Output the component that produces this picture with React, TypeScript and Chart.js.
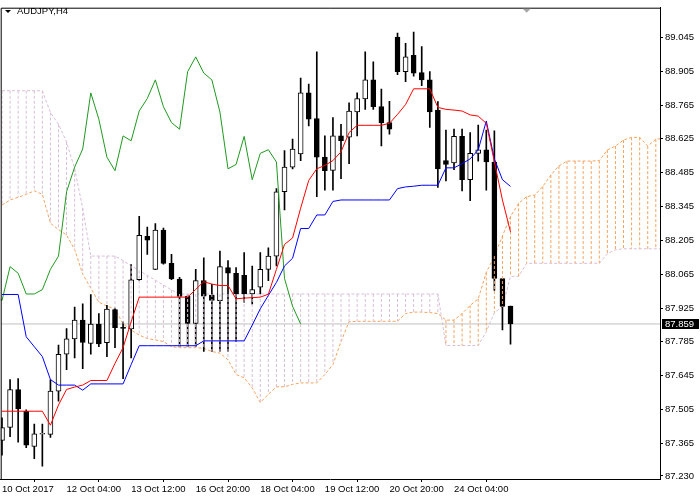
import React, { useEffect, useRef } from 'react';
import { Chart, registerables } from 'chart.js';

Chart.register(...registerables);

// ---- data (AUDJPY H4), bar index 0 = 10 Oct 2017 20:00 ----
const opens = [
  87.377, 87.431, 87.588, 87.497, 87.352, 87.403, 87.402, 87.581, 87.734, 87.797,
  87.875, 87.779, 87.858, 87.782, 87.919, 87.845, 87.838, 88.042, 88.222, 88.085,
  88.247, 88.110, 88.045, 87.973, 87.861, 88.038, 87.979, 87.955, 88.092, 88.069,
  88.060, 87.983, 88.011, 88.085, 88.140, 88.406, 88.508, 88.563, 88.815, 88.709,
  88.549, 88.494, 88.637, 88.632, 88.736, 88.790, 88.869, 88.758, 88.692, 89.046,
  88.903, 88.971, 88.899, 88.869, 88.744, 88.535, 88.525, 88.635, 88.456, 88.565,
  88.580, 88.529, 88.047, 87.933,
];
const highs = [
  87.471, 87.629, 87.633, 87.504, 87.445, 87.445, 87.628, 87.772, 87.840, 87.929,
  87.942, 87.981, 87.902, 87.936, 87.925, 87.868, 88.105, 88.304, 88.260, 88.274,
  88.256, 88.147, 88.052, 87.978, 88.085, 88.133, 88.023, 88.161, 88.121, 88.092,
  88.154, 88.099, 88.154, 88.174, 88.419, 88.576, 88.624, 88.876, 88.852, 88.985,
  88.637, 88.713, 88.685, 88.774, 88.815, 88.985, 88.944, 88.831, 88.780, 89.063,
  89.020, 89.067, 89.007, 88.903, 88.779, 88.661, 88.665, 88.665, 88.651, 88.682,
  88.661, 88.658, 88.047, 87.933,
];
const lows = [
  87.316, 87.393, 87.370, 87.347, 87.302, 87.271, 87.390, 87.540, 87.670, 87.718,
  87.674, 87.734, 87.765, 87.724, 87.761, 87.633, 87.718, 88.039, 88.147, 88.084,
  88.106, 88.042, 87.765, 87.765, 87.765, 87.745, 87.745, 87.745, 87.745, 87.786,
  87.949, 87.941, 87.983, 88.038, 88.099, 88.331, 88.501, 88.535, 88.678, 88.386,
  88.413, 88.413, 88.460, 88.522, 88.637, 88.747, 88.747, 88.596, 88.644, 88.890,
  88.862, 88.884, 88.845, 88.672, 88.424, 88.451, 88.497, 88.410, 88.369, 88.533,
  88.413, 87.998, 87.834, 87.775,
];
const closes = [
  87.430, 87.588, 87.507, 87.357, 87.404, 87.406, 87.581, 87.733, 87.797, 87.875,
  87.783, 87.858, 87.776, 87.921, 87.844, 87.841, 88.042, 88.226, 88.206, 88.247,
  88.110, 88.045, 87.973, 87.861, 88.038, 87.974, 87.956, 88.096, 88.069, 87.983,
  87.983, 88.001, 88.085, 88.140, 88.406, 88.508, 88.583, 88.815, 88.706, 88.549,
  88.493, 88.637, 88.617, 88.740, 88.792, 88.869, 88.758, 88.692, 88.665, 88.903,
  88.964, 88.897, 88.869, 88.736, 88.501, 88.519, 88.635, 88.456, 88.565, 88.580,
  88.529, 88.047, 87.932, 87.859,
];
// Tenkan-sen (red)
const tenkan = [
  87.498, 87.498, 87.498, 87.498, 87.498, 87.498, 87.440, 87.524, 87.588, 87.598,
  87.606, 87.625, 87.625, 87.625, 87.696, 87.761, 87.868, 87.970, 87.970, 87.970,
  87.970, 87.970, 87.970, 87.970, 88.002, 88.034, 88.024, 88.018, 88.018, 87.963,
  87.966, 87.968, 87.970, 87.982, 88.085, 88.188, 88.215, 88.338, 88.453, 88.501,
  88.515, 88.535, 88.571, 88.651, 88.681, 88.681, 88.681, 88.681, 88.689, 88.726,
  88.767, 88.832, 88.832, 88.832, 88.755, 88.747, 88.744, 88.740, 88.724, 88.719,
  88.689, 88.530, 88.372, 88.240,
];
// Kijun-sen (blue)
const kijun = [
  87.981, 87.981, 87.981, 87.806, 87.765, 87.724, 87.629, 87.606, 87.606, 87.606,
  87.585, 87.611, 87.611, 87.611, 87.611, 87.611, 87.691, 87.769, 87.769, 87.769,
  87.769, 87.769, 87.769, 87.769, 87.769, 87.789, 87.789, 87.789, 87.789, 87.789,
  87.789, 87.854, 87.922, 87.977, 88.031, 88.099, 88.131, 88.254, 88.254, 88.310,
  88.310, 88.366, 88.372, 88.372, 88.372, 88.372, 88.372, 88.372, 88.372, 88.419,
  88.426, 88.429, 88.433, 88.433, 88.433, 88.505, 88.505, 88.522, 88.542, 88.579,
  88.699, 88.542, 88.456, 88.428,
];
// Senkou Span A (sandy brown), already shifted 26 bars ahead, bars 0..82
const senkouA = [
  88.351, 88.372, 88.383, 88.395, 88.410, 88.395, 88.276, 88.249, 88.227, 88.167,
  88.065, 88.007, 87.949, 87.933, 87.921, 87.859, 87.834, 87.813, 87.799, 87.793,
  87.786, 87.765, 87.761, 87.761, 87.761, 87.758, 87.745, 87.738, 87.711, 87.650,
  87.636, 87.595, 87.534, 87.568, 87.599, 87.599, 87.609, 87.615, 87.615, 87.615,
  87.650, 87.691, 87.786, 87.868, 87.870, 87.870, 87.870, 87.870, 87.870, 87.870,
  87.902, 87.908, 87.908, 87.906, 87.902, 87.875, 87.875, 87.902, 87.936, 87.963,
  88.072, 88.140, 88.223, 88.304, 88.358, 88.386, 88.392, 88.428, 88.475, 88.513,
  88.533, 88.533, 88.533, 88.533, 88.535, 88.579, 88.595, 88.620, 88.631, 88.631,
  88.595, 88.624, 88.625,
];
// Senkou Span B (thistle), bars 0..82
const senkouB = [
  88.824, 88.824, 88.824, 88.824, 88.824, 88.824, 88.734, 88.685, 88.612, 88.501,
  88.338, 88.140, 88.140, 88.140, 88.140, 88.121, 88.100, 88.080, 88.060, 88.040,
  88.020, 88.000, 87.983, 87.983, 87.983, 87.983, 87.983, 87.983, 87.983, 87.983,
  87.983, 87.983, 87.983, 87.983, 87.983, 87.983, 87.983, 87.983, 87.983, 87.983,
  87.983, 87.983, 87.983, 87.983, 87.983, 87.983, 87.983, 87.983, 87.983, 87.983,
  87.983, 87.983, 87.983, 87.983, 87.983, 87.770, 87.770, 87.770, 87.770, 87.770,
  87.827, 87.906, 87.930, 88.056, 88.056, 88.110, 88.110, 88.110, 88.110, 88.110,
  88.110, 88.110, 88.110, 88.110, 88.110, 88.150, 88.166, 88.170, 88.170, 88.170,
  88.170, 88.170, 88.170,
];
const chikouShift = 26;
const xTickBars = [0, 8, 16, 24, 32, 40, 48, 56];
const xTickLabels = ['10 Oct 2017', '12 Oct 04:00', '13 Oct 12:00', '16 Oct 20:00', '18 Oct 04:00', '19 Oct 12:00', '20 Oct 20:00', '24 Oct 04:00'];
const yTicks = [89.045, 88.905, 88.765, 88.625, 88.485, 88.345, 88.205, 88.065, 87.925, 87.785, 87.645, 87.505, 87.365, 87.230];
const symbolTitle = 'AUDJPY,H4';
const yMin = 87.2175;
const yMax = 89.1676;
const xMin = -0.161;
const xMax = 81.52;

const SANDY = '#F4A460';
const THISTLE = '#D8BFD8';
const FONT = 'Liberation Sans, Arial, sans-serif';
const BODY_INDEX = 3;

const lastPrice = closes[closes.length - 1];

const hatchPlugin = {
  id: 'kumoHatch',
  afterDatasetDraw(chart: any, args: any) {
    if (args.index !== BODY_INDEX) return;
    const { ctx, chartArea, scales } = chart;
    const x = scales.x;
    const y = scales.y;
    ctx.save();
    ctx.beginPath();
    ctx.rect(chartArea.left, chartArea.top, chartArea.right - chartArea.left, chartArea.bottom - chartArea.top);
    ctx.clip();
    ctx.lineWidth = 1;
    ctx.setLineDash([3, 2]);
    for (let i = 0; i < senkouA.length; i++) {
      const a = senkouA[i];
      const b = senkouB[i];
      const px = x.getPixelForValue(i);
      const ya = y.getPixelForValue(a);
      const yb = y.getPixelForValue(b);
      ctx.strokeStyle = a >= b ? SANDY : THISTLE;
      ctx.beginPath();
      ctx.moveTo(px, Math.min(ya, yb));
      ctx.lineTo(px, Math.max(ya, yb));
      ctx.stroke();
    }
    ctx.restore();
  },
};

const overlayPlugin = {
  id: 'mtOverlay',
  afterDraw(chart: any) {
    const { ctx, chartArea, scales } = chart;
    const x = scales.x;
    const y = scales.y;
    ctx.save();
    // frame
    ctx.strokeStyle = '#000';
    ctx.lineWidth = 1;
    ctx.setLineDash([]);
    ctx.beginPath();
    ctx.moveTo(chartArea.left + 0.5, chartArea.bottom);
    ctx.lineTo(chartArea.left + 0.5, chartArea.top + 0.5);
    ctx.lineTo(chartArea.right + 0.5, chartArea.top + 0.5);
    ctx.stroke();
    // title
    ctx.fillStyle = '#000';
    ctx.beginPath();
    ctx.moveTo(5, 10);
    ctx.lineTo(11, 10);
    ctx.lineTo(8, 13);
    ctx.closePath();
    ctx.fill();
    ctx.font = '9.5px ' + FONT;
    ctx.textBaseline = 'middle';
    ctx.textAlign = 'left';
    ctx.fillText(symbolTitle, 17, 11);
    // shift marker
    const sx = x.getPixelForValue(65);
    ctx.fillStyle = '#A8A8A8';
    ctx.beginPath();
    ctx.moveTo(sx - 4, chartArea.top + 1);
    ctx.lineTo(sx + 4, chartArea.top + 1);
    ctx.lineTo(sx, chartArea.top + 5);
    ctx.closePath();
    ctx.fill();
    // price label
    const py = Math.round(y.getPixelForValue(lastPrice));
    ctx.fillStyle = '#000';
    ctx.fillRect(chartArea.right + 2, py - 5, 37, 10);
    ctx.fillStyle = '#fff';
    ctx.fillText(lastPrice.toFixed(3), chartArea.right + 5, py + 0.5);
    ctx.restore();
  },
};

export default function App() {
  const ref = useRef<HTMLCanvasElement | null>(null);
  useEffect(() => {
    if (!ref.current) return;
    const idx = closes.map((_, i) => i);
    const chikouData = closes
      .slice(chikouShift - 1)
      .map((c, k) => ({ x: k - 1, y: c }));
    const chart = new Chart(ref.current, {
      type: 'bar',
      data: {
        datasets: [
          {
            type: 'line',
            data: senkouA.map((v, i) => ({ x: i, y: v })),
            borderColor: SANDY,
            borderWidth: 1,
            borderDash: [3, 2],
            pointRadius: 0,
            tension: 0,
            order: 9,
          } as any,
          {
            type: 'line',
            data: senkouB.map((v, i) => ({ x: i, y: v })),
            borderColor: THISTLE,
            borderWidth: 1,
            borderDash: [3, 2],
            pointRadius: 0,
            tension: 0,
            order: 9,
          } as any,
          {
            type: 'bar',
            data: idx.map((i) => ({ x: i, y: [lows[i], highs[i]] })),
            backgroundColor: '#000',
            borderWidth: 0,
            barThickness: 1,
            grouped: false,
            order: 7,
          } as any,
          {
            type: 'bar',
            data: idx.map((i) => ({ x: i, y: [opens[i], closes[i]] })),
            backgroundColor: idx.map((i) => (closes[i] >= opens[i] ? '#fff' : '#000')),
            borderColor: '#000',
            borderWidth: 1,
            borderSkipped: false,
            barThickness: 5,
            grouped: false,
            order: 6,
          } as any,
          {
            type: 'line',
            data: [
              { x: xMin, y: lastPrice },
              { x: xMax, y: lastPrice },
            ],
            borderColor: '#C0C0C0',
            borderWidth: 1,
            pointRadius: 0,
            order: 8,
          } as any,
          {
            type: 'line',
            data: chikouData,
            borderColor: '#1f9a1f',
            borderWidth: 1,
            pointRadius: 0,
            tension: 0,
            order: 3,
          } as any,
          {
            type: 'line',
            data: kijun.map((v, i) => ({ x: i, y: v })),
            borderColor: '#0000FF',
            borderWidth: 1,
            pointRadius: 0,
            tension: 0,
            order: 2,
          } as any,
          {
            type: 'line',
            data: tenkan.map((v, i) => ({ x: i, y: v })),
            borderColor: '#FF0000',
            borderWidth: 1,
            pointRadius: 0,
            tension: 0,
            order: 1,
          } as any,
        ],
      },
      options: {
        responsive: false,
        animation: false,
        devicePixelRatio: 1,
        events: [],
        layout: { padding: { top: 2, left: 0, right: 0, bottom: 0 } },
        plugins: { legend: { display: false }, tooltip: { enabled: false } },
        scales: {
          x: {
            type: 'linear',
            position: 'bottom',
            min: xMin,
            max: xMax,
            bounds: 'data',
            offset: false,
            grid: { drawOnChartArea: false, drawTicks: true, tickLength: 3, color: '#000' },
            border: { display: true, color: '#000', width: 1 },
            ticks: {
              autoSkip: false,
              maxRotation: 0,
              align: 'start',
              padding: 2,
              color: '#000',
              font: { family: FONT, size: 9.5 },
              callback: (v: any) => {
                const k = xTickBars.indexOf(Number(v));
                return k >= 0 ? xTickLabels[k] : '';
              },
            },
            afterBuildTicks: (s: any) => {
              s.ticks = xTickBars.map((v) => ({ value: v }));
            },
            afterFit: (s: any) => {
              s.height = 18;
            },
          },
          y: {
            type: 'linear',
            position: 'right',
            min: yMin,
            max: yMax,
            bounds: 'data',
            grid: { drawOnChartArea: false, drawTicks: true, tickLength: 3, color: '#000' },
            border: { display: true, color: '#000', width: 1 },
            ticks: {
              autoSkip: false,
              padding: 2,
              color: '#000',
              font: { family: FONT, size: 9.5 },
              callback: (v: any) => Number(v).toFixed(3),
            },
            afterBuildTicks: (s: any) => {
              s.ticks = yTicks.map((v) => ({ value: v }));
            },
            afterFit: (s: any) => {
              s.width = 40;
            },
          },
        },
      } as any,
      plugins: [hatchPlugin, overlayPlugin],
    });
    return () => chart.destroy();
  }, []);
  return (
    <div style={{ position: 'fixed', left: 0, top: 0, width: 700, height: 497, background: '#fff' }}>
      <canvas ref={ref} width={700} height={497} style={{ display: 'block' }} />
    </div>
  );
}
